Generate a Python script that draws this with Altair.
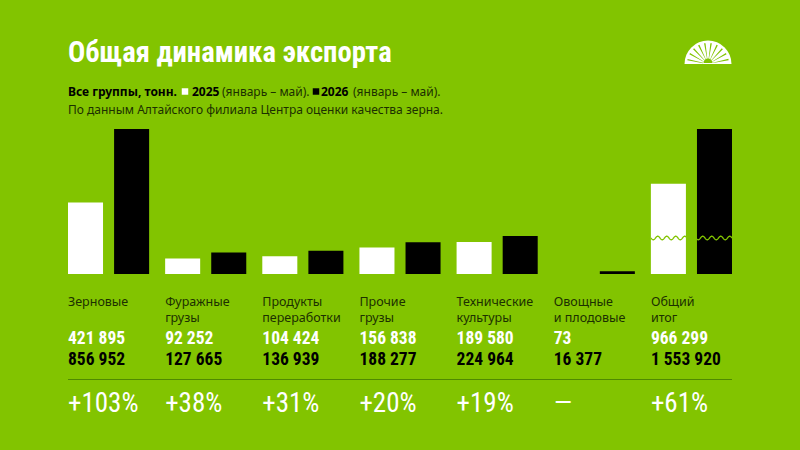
import math
import altair as alt
import pandas as pd

# --- data -----------------------------------------------------------------
categories = ["Зерновые", "Фуражные грузы", "Продукты переработки", "Прочие грузы",
              "Технические культуры", "Овощные и плодовые", "Общий итог"]
label_line1 = ["Зерновые", "Фуражные", "Продукты", "Прочие", "Технические", "Овощные", "Общий"]
label_line2 = ["", "грузы", "переработки", "грузы", "культуры", "и плодовые", "итог"]
values_2025 = [421895, 92252, 104424, 156838, 189580, 73, 966299]
values_2026 = [856952, 127665, 136939, 188277, 224964, 16377, 1553920]
change_labels = ["+103%", "+38%", "+31%", "+20%", "+19%", "—", "+61%"]
years = ["2025", "2026"]
total_category = "Общий итог"

# --- styles ---------------------------------------------------------------
BG = "#82c400"
DARK = "#1c3000"
RULE = "#4f8a00"
NARROW = "Roboto Condensed, Open Sans Condensed, sans-serif"
SANS = "Noto Sans, Open Sans, sans-serif"


def fmt(v):
    return f"{v:,}".replace(",", " ")


rows = []
for c, a, b in zip(categories, values_2025, values_2026):
    part = "total" if c == total_category else "main"
    rows.append({"cat": c, "year": years[0], "value": a, "part": part})
    rows.append({"cat": c, "year": years[1], "value": b, "part": part})
bars = pd.DataFrame(rows)

labels = pd.DataFrame({
    "cat": categories,
    "l1": label_line1,
    "l2": label_line2,
    "v25": [fmt(v) for v in values_2025],
    "v26": [fmt(v) for v in values_2026],
    "pct": change_labels,
})

x_scale = alt.Scale(domain=categories, paddingInner=0.165, paddingOuter=0)
off_scale = alt.Scale(domain=years, paddingInner=0.24, paddingOuter=0)
col_scale = alt.Scale(domain=years, range=["#ffffff", "#000000"])


def bar_layer(part):
    return (
        alt.Chart(bars)
        .transform_filter(alt.datum.part == part)
        .mark_bar()
        .encode(
            x=alt.X("cat:N", scale=x_scale, axis=None),
            xOffset=alt.XOffset("year:N", scale=off_scale),
            y=alt.Y("value:Q", scale=alt.Scale(zero=True, nice=False), axis=None),
            color=alt.Color("year:N", scale=col_scale, legend=None),
        )
    )


def row_text(field, y, font, size, color, weight="normal"):
    return (
        alt.Chart(labels)
        .mark_text(align="left", baseline="middle", font=font, fontSize=size,
                   fontWeight=weight, color=color)
        .encode(
            x=alt.X("cat:N", scale=x_scale, bandPosition=0, axis=None),
            y=alt.value(y),
            text=f"{field}:N",
        )
    )


one = pd.DataFrame({"k": [0]})


def free_text(txt, x, y, font, size, color, weight="normal"):
    return (
        alt.Chart(one)
        .mark_text(text=txt, align="left", baseline="middle", font=font,
                   fontSize=size, fontWeight=weight, color=color)
        .encode(x=alt.value(x), y=alt.value(y))
    )


main_bars = bar_layer("main")
total_bars = bar_layer("total")

# break marker across the scaled-down total bars
wave = (
    alt.Chart(alt.sequence(0, 81.5, 0.5, as_="t"))
    .transform_calculate(px="583 + datum.t", py="109 + 1.8 * sin(datum.t * 2 * PI / 9)")
    .mark_line(color=BG, strokeWidth=1.3)
    .encode(x=alt.X("px:Q", scale=None), y=alt.Y("py:Q", scale=None))
)

texts = [
    row_text("l1", 173, SANS, 12.5, DARK),
    row_text("l2", 189, SANS, 12.5, DARK),
    row_text("v25", 209.5, NARROW, 17.5, "#ffffff", "bold"),
    row_text("v26", 231, NARROW, 17.5, "#000000", "bold"),
    row_text("pct", 274.5, NARROW, 27, "#ffffff", "normal"),
]

rule = (
    alt.Chart(one)
    .mark_rule(color=RULE, strokeWidth=1)
    .encode(x=alt.value(0), x2=alt.value(664), y=alt.value(250.5))
)

header = [
    free_text("Общая динамика экспорта", 0, -76.5, NARROW, 28.7, "#ffffff", "bold"),
    free_text("Все группы, тонн.", 0, -37, SANS, 12, "#000000", "bold"),
    free_text("2025", 124, -37, SANS, 12, "#000000", "bold"),
    free_text("(январь – май).", 154, -37, SANS, 12, DARK),
    free_text("2026", 253, -37, SANS, 12, "#000000", "bold"),
    free_text("(январь – май).", 285, -37, SANS, 12, DARK),
    free_text("По данным Алтайского филиала Центра оценки качества зерна.", 0, -19, SANS, 12, DARK),
]

swatches = [
    alt.Chart(one).mark_square(size=42, color="#ffffff", opacity=1)
    .encode(x=alt.value(117), y=alt.value(-37.5)),
    alt.Chart(one).mark_square(size=42, color="#000000", opacity=1)
    .encode(x=alt.value(248), y=alt.value(-37.5)),
]

# sunrise emblem in the top-right corner
cx, cy = 640, -65
logo = [
    alt.Chart(one).mark_arc(theta=1.5 * math.pi, theta2=2.5 * math.pi, radius=23.5,
                            radius2=0, color="#ffffff")
    .encode(x=alt.value(cx), y=alt.value(cy)),
]
for i in range(10):
    a = math.radians(-78 + i * 17.3) + 2 * math.pi
    logo.append(
        alt.Chart(one).mark_arc(theta=a - 0.035, theta2=a + 0.035, radius=21,
                                radius2=5, color=BG)
        .encode(x=alt.value(cx), y=alt.value(cy))
    )
logo.append(
    alt.Chart(one).mark_arc(theta=1.5 * math.pi, theta2=2.5 * math.pi, radius=4.5,
                            radius2=0, color=BG)
    .encode(x=alt.value(cx), y=alt.value(cy - 1))
)

chart = (
    alt.layer(main_bars, total_bars, wave, rule, *texts, *header, *swatches, *logo)
    .resolve_scale(y="independent")
    .properties(
        width=664,
        height=145,
        padding={"left": 68, "top": 129, "right": 68, "bottom": 176},
        autosize=alt.AutoSizeParams(type="none"),
        background=BG,
    )
    .configure_view(stroke=None)
)

chart.save("out.html", embed_options={"renderer": "svg", "actions": False})
